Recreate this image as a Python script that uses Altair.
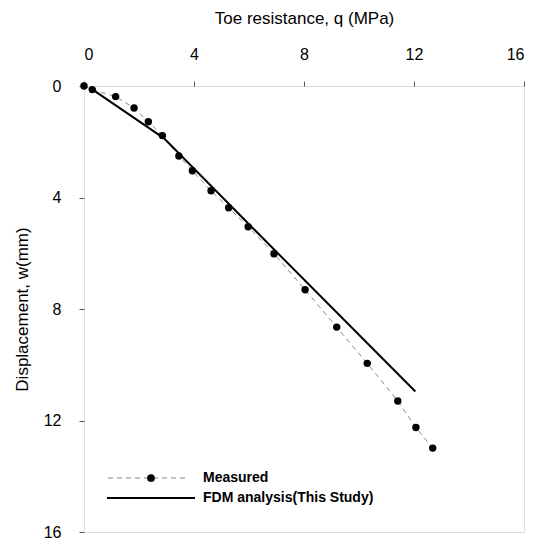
import altair as alt
import pandas as pd

# Measured data (toe resistance q in MPa, displacement w in mm)
meas_q = [0.0, 0.3, 1.15, 1.82, 2.34, 2.85, 3.45, 3.94, 4.62, 5.26, 5.97,
          6.91, 8.04, 9.19, 10.30, 11.41, 12.07, 12.68]
meas_w = [0.0, 0.13, 0.38, 0.79, 1.28, 1.78, 2.51, 3.04, 3.76, 4.37, 5.05,
          6.02, 7.31, 8.65, 9.95, 11.30, 12.25, 12.99]

# FDM analysis (This Study)
fdm_q = [0.3, 2.9, 6.0, 12.05]
fdm_w = [0.12, 1.87, 4.96, 10.96]

x_ticks = [0, 4, 8, 12, 16]
y_ticks = [0, 4, 8, 12, 16]

FONT = "Liberation Sans"

meas = pd.DataFrame({"q": meas_q, "w": meas_w})
fdm = pd.DataFrame({"q": fdm_q, "w": fdm_w})

xscale = alt.Scale(domain=[0, 16], nice=False, zero=False)
yscale = alt.Scale(domain=[0, 16], nice=False, zero=False, reverse=True)

xaxis = alt.Axis(orient="top", values=x_ticks, title="Toe resistance, q (MPa)",
                 grid=False, domain=False, tickSize=5, tickColor="#555",
                 labelPadding=19, titlePadding=19, labelFontSize=16,
                 titleFontSize=17, titleFontWeight="normal", labelColor="black",
                 titleColor="black", labelFont=FONT, titleFont=FONT)
yaxis = alt.Axis(values=y_ticks, title="Displacement, w(mm)",
                 grid=False, domain=False, tickSize=5, tickColor="#555",
                 labelPadding=18, titlePadding=12, labelFontSize=16,
                 titleFontSize=17, titleFontWeight="normal", labelColor="black",
                 titleColor="black", labelFont=FONT, titleFont=FONT)

meas_line = alt.Chart(meas).mark_line(color="#888", strokeWidth=1,
                                      strokeDash=[5, 4]).encode(
    x=alt.X("q:Q", scale=xscale, axis=xaxis),
    y=alt.Y("w:Q", scale=yscale, axis=yaxis),
)
meas_pts = alt.Chart(meas).mark_circle(color="black", opacity=1, size=55).encode(
    x=alt.X("q:Q", scale=xscale),
    y=alt.Y("w:Q", scale=yscale),
)
fdm_line = alt.Chart(fdm).mark_line(color="black", strokeWidth=2).encode(
    x=alt.X("q:Q", scale=xscale),
    y=alt.Y("w:Q", scale=yscale),
)

# Manual legend
leg1_line = alt.Chart(pd.DataFrame({"a": [0]})).mark_rule(
    color="#888", strokeWidth=1, strokeDash=[5, 4]).encode(
    x=alt.value(24), x2=alt.value(103), y=alt.value(392))
leg1_dot = alt.Chart(pd.DataFrame({"a": [0]})).mark_circle(
    color="black", opacity=1, size=60).encode(x=alt.value(67), y=alt.value(392))
leg2_line = alt.Chart(pd.DataFrame({"a": [0]})).mark_rule(
    color="black", strokeWidth=2).encode(
    x=alt.value(23), x2=alt.value(111), y=alt.value(412))
leg_text = alt.Chart(pd.DataFrame({"t": ["Measured", "FDM analysis(This Study)"],
                                   "yy": [392, 412]})).mark_text(
    align="left", baseline="middle", fontWeight="bold", fontSize=14,
    font=FONT, color="black").encode(
    x=alt.value(119), y=alt.Y("yy:Q", scale=None), text="t:N")

chart = alt.layer(meas_line, fdm_line, meas_pts, leg1_line, leg1_dot,
                  leg2_line, leg_text).properties(
    width=440, height=446,
    autosize=alt.AutoSizeParams(type="none"),
    padding={"left": 84, "top": 86, "right": 12, "bottom": 10},
).configure_view(stroke="#888", strokeWidth=1, strokeDash=[12, 3]
).configure(background="white")

chart.save("out.html", embed_options={"renderer": "svg", "actions": False})
